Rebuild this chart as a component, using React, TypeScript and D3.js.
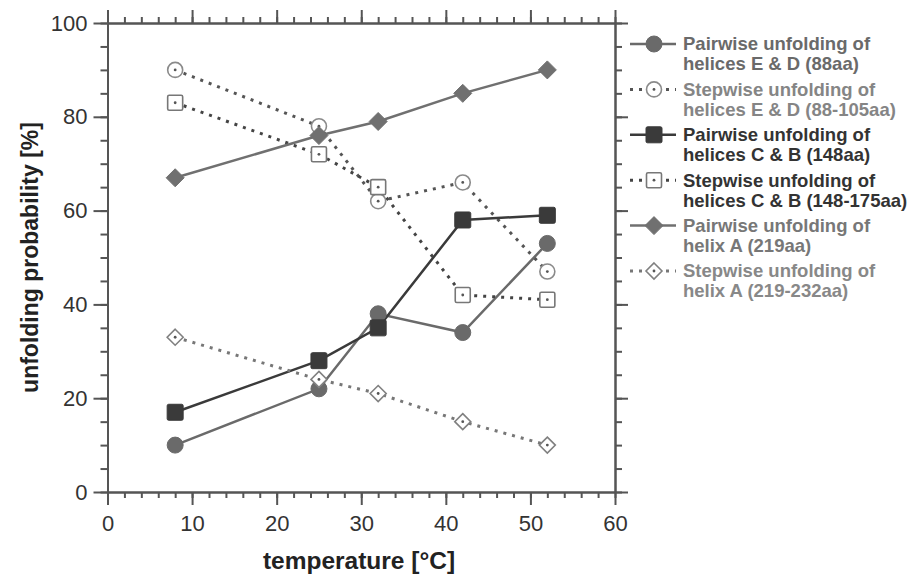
import React, { useEffect, useRef } from 'react';
import * as d3 from 'd3';

const temperatures = [8, 25, 32, 42, 52];

const pairwiseED = [10, 22, 38, 34, 53];
const stepwiseED = [90, 78, 62, 66, 47];
const pairwiseCB = [17, 28, 35, 58, 59];
const stepwiseCB = [83, 72, 65, 42, 41];
const pairwiseA = [67, 76, 79, 85, 90];
const stepwiseA = [33, 24, 21, 15, 10];

const xTicks = [0, 10, 20, 30, 40, 50, 60];
const yTicks = [0, 20, 40, 60, 80, 100];

const seriesList = [
  { name: ['Pairwise unfolding of', 'helices E & D (88aa)'], values: pairwiseED, shape: 'circle', filled: true, color: '#6a6a6a', line: '#6a6a6a', text: '#6a6a6a' },
  { name: ['Stepwise unfolding of', 'helices E & D (88-105aa)'], values: stepwiseED, shape: 'circle', filled: false, color: '#8a8a8a', line: '#555', text: '#858585' },
  { name: ['Pairwise unfolding of', 'helices C & B (148aa)'], values: pairwiseCB, shape: 'square', filled: true, color: '#3a3a3a', line: '#3a3a3a', text: '#333' },
  { name: ['Stepwise unfolding of', 'helices C & B (148-175aa)'], values: stepwiseCB, shape: 'square', filled: false, color: '#777', line: '#444', text: '#333' },
  { name: ['Pairwise unfolding of', 'helix A (219aa)'], values: pairwiseA, shape: 'diamond', filled: true, color: '#707070', line: '#707070', text: '#777' },
  { name: ['Stepwise unfolding of', 'helix A (219-232aa)'], values: stepwiseA, shape: 'diamond', filled: false, color: '#808080', line: '#777', text: '#888' },
];

const W = 915;
const H = 574;

function drawMarker(g: any, s: any, cx: number, cy: number) {
  if (s.shape === 'circle') {
    g.append('circle')
      .attr('cx', cx).attr('cy', cy)
      .attr('r', s.filled ? 8 : 7.5)
      .attr('fill', s.filled ? s.color : '#fff')
      .attr('stroke', s.color)
      .attr('stroke-width', s.filled ? 1 : 1.6);
  } else if (s.shape === 'square') {
    const h = s.filled ? 8 : 7.5;
    g.append('rect')
      .attr('x', cx - h).attr('y', cy - h)
      .attr('width', h * 2).attr('height', h * 2)
      .attr('rx', 1.5)
      .attr('fill', s.filled ? s.color : '#fff')
      .attr('stroke', s.color)
      .attr('stroke-width', s.filled ? 1 : 1.6);
  } else {
    const h = s.filled ? 9 : 8;
    g.append('path')
      .attr('d', `M${cx},${cy - h}L${cx + h},${cy}L${cx},${cy + h}L${cx - h},${cy}Z`)
      .attr('fill', s.filled ? s.color : '#fff')
      .attr('stroke', s.color)
      .attr('stroke-width', s.filled ? 1 : 1.6);
  }
  if (!s.filled) {
    g.append('circle')
      .attr('cx', cx).attr('cy', cy).attr('r', 1.4)
      .attr('fill', '#555');
  }
}

const Chart = () => {
  const ref = useRef<SVGSVGElement>(null);

  useEffect(() => {
    const svg = d3.select(ref.current);
    svg.selectAll('*').remove();

    const x = d3.scaleLinear().domain([0, 60]).range([107.5, 615]);
    const y = d3.scaleLinear().domain([0, 100]).range([492, 23]);

    const axisColor = '#555';
    const font = '"Liberation Sans", Arial, Helvetica, sans-serif';

    const minorX = d3.range(0, 61, 2);
    const minorY = d3.range(0, 101, 5);

    const styleAxis = (g: any) => {
      g.selectAll('path').attr('stroke', axisColor).attr('stroke-width', 2);
      g.selectAll('line').attr('stroke', axisColor).attr('stroke-width', 2);
    };

    // bottom
    svg.append('g').attr('transform', `translate(0,${y(0)})`)
      .call(d3.axisBottom(x).tickValues(minorX).tickSize(6).tickSizeOuter(0).tickFormat(() => ''))
      .call(styleAxis);
    const bx = svg.append('g').attr('transform', `translate(0,${y(0)})`)
      .call(d3.axisBottom(x).tickValues(xTicks).tickSize(13).tickSizeOuter(0).tickPadding(10))
      .call(styleAxis);
    bx.selectAll('text').attr('font-size', 22).attr('font-family', font).attr('fill', '#333');

    // top
    svg.append('g').attr('transform', `translate(0,${y(100)})`)
      .call(d3.axisTop(x).tickValues(minorX).tickSize(6).tickSizeOuter(0).tickFormat(() => ''))
      .call(styleAxis);
    svg.append('g').attr('transform', `translate(0,${y(100)})`)
      .call(d3.axisTop(x).tickValues(xTicks).tickSize(13).tickSizeOuter(0).tickFormat(() => ''))
      .call(styleAxis);

    // left
    svg.append('g').attr('transform', `translate(${x(0)},0)`)
      .call(d3.axisLeft(y).tickValues(minorY).tickSize(7).tickSizeOuter(0).tickFormat(() => ''))
      .call(styleAxis);
    const ly = svg.append('g').attr('transform', `translate(${x(0)},0)`)
      .call(d3.axisLeft(y).tickValues(yTicks).tickSize(14).tickSizeOuter(0).tickPadding(6))
      .call(styleAxis);
    ly.selectAll('text').attr('font-size', 22).attr('font-family', font).attr('fill', '#333');

    // right
    svg.append('g').attr('transform', `translate(${x(60)},0)`)
      .call(d3.axisRight(y).tickValues(minorY).tickSize(7).tickSizeOuter(0).tickFormat(() => ''))
      .call(styleAxis);
    svg.append('g').attr('transform', `translate(${x(60)},0)`)
      .call(d3.axisRight(y).tickValues(yTicks).tickSize(13).tickSizeOuter(0).tickFormat(() => ''))
      .call(styleAxis);

    // axis titles
    svg.append('text')
      .attr('x', 359).attr('y', 569)
      .attr('text-anchor', 'middle')
      .attr('font-family', font).attr('font-weight', 'bold').attr('font-size', 24.5)
      .attr('fill', '#222')
      .text('temperature [°C]');
    svg.append('text')
      .attr('transform', `translate(38,${y(50)}) rotate(-90)`)
      .attr('text-anchor', 'middle')
      .attr('font-family', font).attr('font-weight', 'bold').attr('font-size', 23)
      .attr('fill', '#222')
      .text('unfolding probability [%]');

    const line = d3.line<number>()
      .x((_, i) => x(temperatures[i]))
      .y(d => y(d));

    const plot = svg.append('g');
    seriesList.forEach(s => {
      plot.append('path')
        .attr('d', line(s.values))
        .attr('fill', 'none')
        .attr('stroke', s.line)
        .attr('stroke-width', s.filled ? 2.5 : 3)
        .attr('stroke-dasharray', s.filled ? null : '3,6');
    });
    seriesList.forEach(s => {
      const g = plot.append('g');
      s.values.forEach((v, i) => drawMarker(g, s, x(temperatures[i]), y(v)));
    });

    // legend
    const legend = svg.append('g');
    seriesList.forEach((s, i) => {
      const cy = 44 + i * 45.4;
      legend.append('line')
        .attr('x1', 630).attr('x2', 676).attr('y1', cy).attr('y2', cy)
        .attr('stroke', s.line)
        .attr('stroke-width', s.filled ? 2.5 : 3)
        .attr('stroke-dasharray', s.filled ? null : '3,6');
      drawMarker(legend, s, 654, cy);
      s.name.forEach((t, j) => {
        legend.append('text')
          .attr('x', 683).attr('y', cy + j * 20)
          .attr('dy', '0.35em')
          .attr('font-family', font).attr('font-weight', 'bold').attr('font-size', 18.5)
          .attr('fill', s.text)
          .text(t);
      });
    });
  }, []);

  return <svg ref={ref} width={W} height={H} style={{ position: 'absolute', left: 0, top: 0, background: '#fff' }}></svg>;
};

export default function App() {
  return <Chart />;
}
